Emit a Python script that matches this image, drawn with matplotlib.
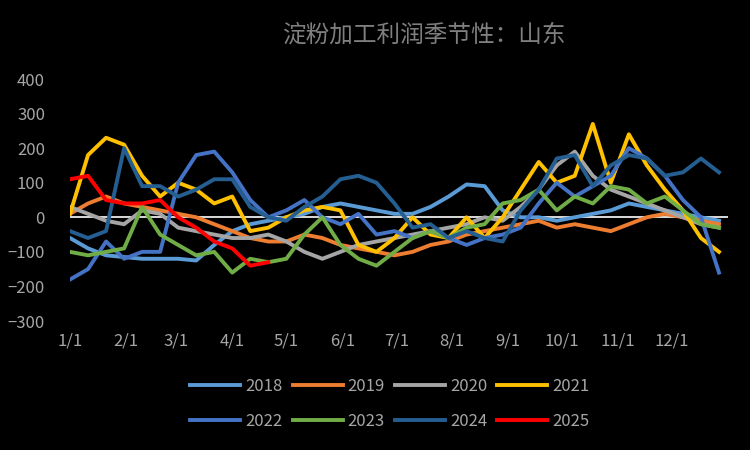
import matplotlib.pyplot as plt
import numpy as np
plt.rcParams['font.family'] = ['Noto Sans CJK SC', 'DejaVu Sans']

days = list(range(0, 361, 10))
s2018 = [-60,-90,-110,-115,-120,-120,-120,-125,-80,-40,-20,-10,0,10,30,40,30,20,10,10,30,60,95,90,20,0,0,-10,0,10,20,40,30,20,10,0,-10]
s2019 = [10,40,60,40,30,20,10,0,-20,-40,-60,-70,-70,-50,-60,-80,-90,-100,-110,-100,-80,-70,-50,-40,-30,-20,-10,-30,-20,-30,-40,-20,0,10,0,-10,-20]
s2020 = [30,10,-10,-20,20,10,-30,-40,-50,-60,-60,-50,-70,-100,-120,-100,-80,-70,-60,-50,-40,-30,-20,0,-10,30,80,150,190,120,80,60,40,20,0,-20,-30]
s2021 = [10,180,230,210,120,60,100,80,40,60,-40,-30,0,20,30,20,-80,-100,-60,0,-50,-60,0,-60,0,80,160,100,120,270,100,240,150,80,20,-60,-100]
s2022 = [-180,-150,-70,-120,-100,-100,100,180,190,130,50,0,20,50,0,-20,10,-50,-40,-60,-40,-60,-80,-60,-50,-30,40,100,60,90,120,200,170,120,50,0,-160]
s2023 = [-100,-110,-100,-90,30,-50,-80,-110,-100,-160,-120,-130,-120,-50,0,-80,-120,-140,-100,-60,-40,-60,-30,-20,40,50,80,20,60,40,90,80,40,60,20,-20,-30]
s2024 = [-40,-60,-40,200,90,90,60,80,110,110,30,0,-10,30,60,110,120,100,40,-30,-20,-60,-40,-60,-70,20,80,170,180,90,150,180,170,120,130,170,130]
days2025 = list(range(0, 111, 10))
s2025 = [110,120,50,40,40,50,0,-30,-70,-90,-140,-130]

series = [("2018", s2018, "#5B9BD5"), ("2019", s2019, "#ED7D31"), ("2020", s2020, "#A5A5A5"),
          ("2021", s2021, "#FFC000"), ("2022", s2022, "#4472C4"), ("2023", s2023, "#70AD47"),
          ("2024", s2024, "#255E91")]
month_ticks = [0,31,59,90,120,151,181,212,243,273,304,334]
month_labels = [f"{m}/1" for m in range(1, 13)]

fig = plt.figure(figsize=(7.5, 4.5), dpi=100, facecolor="black")
ax = fig.add_axes([70/750, 1-321/450, 658/750, 242/450], facecolor="black")
ax.axhline(0, color="white", lw=1.2, zorder=1)
handles = []
for name, vals, c in series:
    h, = ax.plot(days, vals, color=c, lw=2.8, label=name)
    handles.append(h)
h, = ax.plot(days2025, s2025, color="#FF0000", lw=2.8, label="2025")
handles.append(h)
ax.set_xlim(0, 365)
ax.set_ylim(-300, 400)
ax.set_yticks(range(-300, 401, 100))
ax.set_xticks(month_ticks)
ax.set_xticklabels(month_labels)
ax.tick_params(colors="#A6A6A6", labelsize=12, length=0)
ax.tick_params(axis="y", pad=18)
ax.tick_params(axis="x", pad=8)
for sp in ax.spines.values():
    sp.set_visible(False)
fig.text(0.565, 0.922, "淀粉加工利润季节性：山东", color="#7F7F7F", fontsize=17, ha="center", va="center")
order = [0, 4, 1, 5, 2, 6, 3, 7]
fig.legend([handles[i] for i in order], [handles[i].get_label() for i in order],
           loc="center", bbox_to_anchor=(0.52, 0.102), ncol=4, frameon=False,
           labelcolor="#A6A6A6", fontsize=12, handlelength=3, columnspacing=0.6,
           handletextpad=0.3, labelspacing=1.1)
fig.savefig("out.png", dpi=100, facecolor="black")
